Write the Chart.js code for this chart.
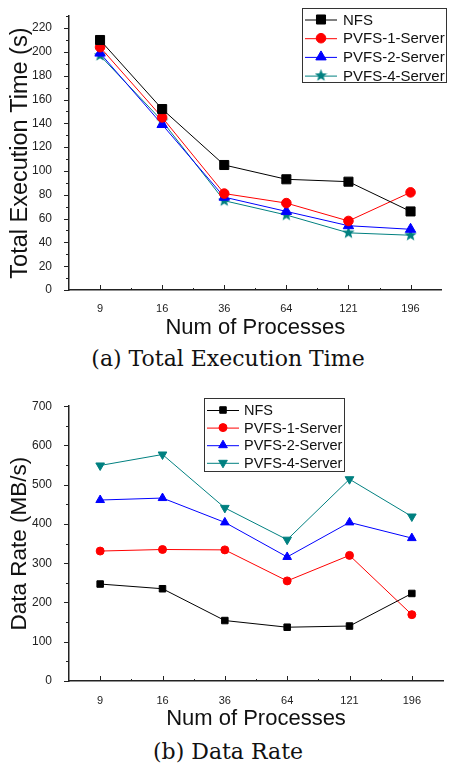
<!DOCTYPE html>
<html>
<head>
<meta charset="utf-8">
<script src="https://cdn.jsdelivr.net/npm/chart.js@4.4.1/dist/chart.umd.min.js"></script>
<style>
  html, body { margin:0; padding:0; background:#fff; }
  body { width:449px; height:767px; position:relative; overflow:hidden; }
  #c1 { position:absolute; left:0; top:0; }
  #c2 { position:absolute; left:0; top:390px; }
  .cap { position:absolute; left:0; width:456px; text-align:center; font-family:"DejaVu Serif", "Liberation Serif", serif; font-size:22px; color:#111; line-height:24px; }
</style>
</head>
<body>
<canvas id="c1" width="449" height="340"></canvas>
<canvas id="c2" width="449" height="340"></canvas>
<div class="cap" style="top:347px;">(a) Total Execution Time</div>
<div class="cap" style="top:740px;">(b) Data Rate</div>
<script>
// ---- data ----
const categories = ['9', '16', '36', '64', '121', '196'];
const seriesNames = ['NFS', 'PVFS-1-Server', 'PVFS-2-Server', 'PVFS-4-Server'];

const timeNFS   = [210, 152, 105, 93, 91, 66];
const timePVFS1 = [204, 145, 81, 73, 58, 82];
const timePVFS2 = [199, 139, 78, 66, 54, 51];
const timePVFS4 = [197, 142, 75, 63, 48, 46];

const rateNFS   = [247, 235, 154, 137, 140, 223];
const ratePVFS1 = [331, 335, 334, 255, 320, 169];
const ratePVFS2 = [461, 466, 404, 316, 404, 364];
const ratePVFS4 = [549, 577, 441, 360, 514, 419];

const xTitle = 'Num of Processes';
const yTitleTime = 'Total Execution Time (s)';
const yTitleRate = 'Data Rate (MB/s)';

// ---- styling ----
const colors = ['#000000', '#ff0000', '#0000ff', '#008080'];
const AXIS = '#222';
const FONT = '"Liberation Sans", Arial, sans-serif';

function makeStar(size, color) {
  const c = document.createElement('canvas');
  c.width = size; c.height = size;
  const g = c.getContext('2d');
  const cx = size / 2, cy = size / 2, R = size / 2, r = R * 0.42;
  g.beginPath();
  for (let i = 0; i < 10; i++) {
    const a = -Math.PI / 2 + i * Math.PI / 5;
    const rr = i % 2 === 0 ? R : r;
    g.lineTo(cx + rr * Math.cos(a), cy + rr * Math.sin(a));
  }
  g.closePath();
  g.fillStyle = color; g.fill();
  return c;
}
const starImg = makeStar(13, '#008080');

const axisTicks = {
  id: 'axisTicks',
  afterDraw(chart, args, opts) {
    const ctx = chart.ctx, xs = chart.scales.x, ys = chart.scales.y;
    const left = chart.chartArea.left, bottom = chart.chartArea.bottom;
    ctx.save();
    ctx.strokeStyle = AXIS; ctx.lineWidth = 1;
    ctx.beginPath();
    const step = opts.step;
    for (let v = ys.min; v <= ys.max + 1e-6; v += step / 2) {
      const py = Math.round(ys.getPixelForValue(v)) + 0.5;
      const major = Math.abs((v / step) - Math.round(v / step)) < 1e-6;
      ctx.moveTo(left - (major ? 5 : 3), py); ctx.lineTo(left, py);
    }
    const n = categories.length;
    for (let i = 0; i < n; i++) {
      const px = Math.round(xs.getPixelForValue(i)) + 0.5;
      ctx.moveTo(px, bottom); ctx.lineTo(px, bottom - 5);
      if (i < n - 1) {
        const pm = Math.round((xs.getPixelForValue(i) + xs.getPixelForValue(i + 1)) / 2) + 0.5;
        ctx.moveTo(pm, bottom); ctx.lineTo(pm, bottom - 2);
      }
    }
    ctx.stroke();
    ctx.restore();
  }
};

const boxLegend = {
  id: 'boxLegend',
  afterDraw(chart, args, o) {
    const ctx = chart.ctx;
    ctx.save();
    ctx.strokeStyle = '#333'; ctx.lineWidth = 1;
    ctx.strokeRect(o.x + 0.5, o.y + 0.5, o.w, o.h);
    chart.data.datasets.forEach((ds, i) => {
      const cy = o.y + o.first + i * o.row;
      ctx.strokeStyle = ds.borderColor; ctx.lineWidth = 1;
      ctx.beginPath(); ctx.moveTo(o.x + o.l1, cy + 0.5); ctx.lineTo(o.x + o.l2, cy + 0.5); ctx.stroke();
      ctx.fillStyle = ds.backgroundColor; ctx.strokeStyle = ds.borderColor;
      Chart.helpers.drawPoint(ctx, { pointStyle: ds.pointStyle, radius: ds.pointRadius, rotation: ds.pointRotation || 0, borderWidth: 1 }, o.x + (o.l1 + o.l2) / 2, cy);
      ctx.fillStyle = '#111';
      ctx.font = o.font + 'px ' + FONT;
      ctx.textBaseline = 'middle'; ctx.textAlign = 'left';
      ctx.fillText(ds.label, o.x + o.tx, cy + 1);
    });
    ctx.restore();
  }
};

function makeDatasets(arrays, styles, radii, rotations) {
  return arrays.map((arr, i) => ({
    label: seriesNames[i],
    data: arr,
    borderColor: colors[i],
    backgroundColor: colors[i],
    borderWidth: 1,
    pointStyle: styles[i],
    pointRadius: radii[i],
    pointHoverRadius: radii[i],
    pointRotation: rotations[i],
    pointBorderWidth: 1,
    tension: 0,
    fill: false
  }));
}

function makeOptions(cfg) {
  return {
    responsive: false,
    animation: false,
    events: [],
    layout: { padding: { top: cfg.padTop, right: 2, left: 0, bottom: 0 } },
    plugins: {
      legend: { display: false },
      tooltip: { enabled: false },
      axisTicks: { step: cfg.step },
      boxLegend: cfg.legend
    },
    scales: {
      x: {
        type: 'category',
        offset: true,
        grid: { display: false },
        border: { display: true, color: AXIS, width: 1.5 },
        ticks: { color: '#222', font: { family: FONT, size: 11 }, padding: cfg.xPad, maxRotation: 0 },
        title: { display: true, text: xTitle, color: '#111', font: { family: FONT, size: 22, lineHeight: 1.0 }, padding: { top: 0, bottom: cfg.xTitlePad } },
        afterFit(s) { s.height = cfg.xHeight; }
      },
      y: {
        min: 0, max: cfg.max,
        grid: { display: false },
        border: { display: true, color: AXIS, width: 1.5 },
        ticks: { stepSize: cfg.step, includeBounds: false, color: '#222', font: { family: FONT, size: 12 }, padding: 9 },
        title: { display: true, text: cfg.yTitle, color: '#111', font: { family: FONT, size: cfg.yTitleSize, lineHeight: 1.0 }, padding: { top: 9, bottom: 0 } },
        afterFit(s) { s.width = 69; }
      }
    }
  };
}

new Chart(document.getElementById('c1'), {
  type: 'line',
  data: {
    labels: categories,
    datasets: makeDatasets([timeNFS, timePVFS1, timePVFS2, timePVFS4],
      ['rect', 'circle', 'triangle', starImg], [6.4, 4.8, 6, 6], [0, 0, 0, 0])
  },
  options: makeOptions({
    padTop: 8, max: 230, step: 20, xPad: 4, xTitlePad: 1, xHeight: 50,
    yTitle: yTitleTime, yTitleSize: 23.5,
    legend: { x: 302, y: 8, w: 144, h: 74, first: 11.5, row: 18.7, l1: 3, l2: 35, tx: 41, font: 15 }
  }),
  plugins: [axisTicks, boxLegend]
});

new Chart(document.getElementById('c2'), {
  type: 'line',
  data: {
    labels: categories,
    datasets: makeDatasets([rateNFS, ratePVFS1, ratePVFS2, ratePVFS4],
      ['rect', 'circle', 'triangle', 'triangle'], [4.6, 4, 5, 5], [0, 0, 0, 180])
  },
  options: makeOptions({
    padTop: 10, max: 700, step: 100, xPad: 5, xTitlePad: 0, xHeight: 49,
    yTitle: yTitleRate, yTitleSize: 22.5,
    legend: { x: 204, y: 8, w: 140, h: 73, first: 12, row: 17.6, l1: 3, l2: 35, tx: 40, font: 14.5 }
  }),
  plugins: [axisTicks, boxLegend]
});
</script>
</body>
</html>
